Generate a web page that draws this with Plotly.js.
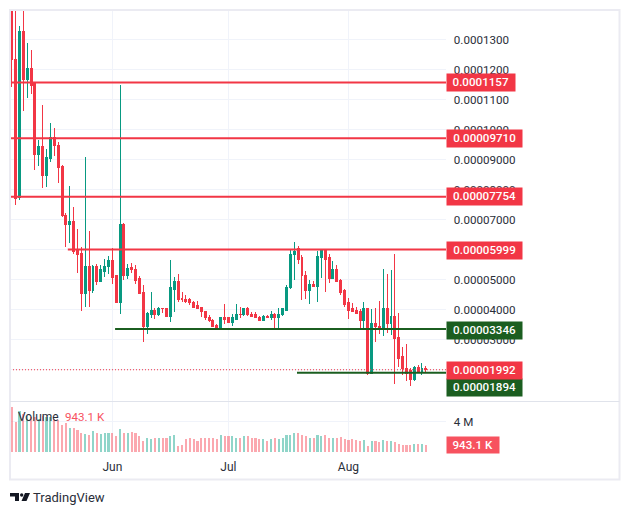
<!DOCTYPE html>
<html>
<head>
<meta charset="utf-8">
<script src="https://cdn.plot.ly/plotly-3.0.1.min.js"></script>
<style>html,body{margin:0;padding:0;background:#fff}#chart{width:630px;height:515px}
.boxlayer path{shape-rendering:crispEdges}.barlayer path{shape-rendering:crispEdges}</style>
</head>
<body>
<div id="chart"></div>
<script>
// Prices in millionths (1e-6), volumes in millions
const dates = [
'2024-05-06','2024-05-07','2024-05-08','2024-05-09','2024-05-10','2024-05-11','2024-05-12','2024-05-13','2024-05-14','2024-05-15','2024-05-16','2024-05-17','2024-05-18','2024-05-19','2024-05-20','2024-05-21','2024-05-22','2024-05-23','2024-05-24','2024-05-25','2024-05-26','2024-05-27','2024-05-28','2024-05-29','2024-05-30','2024-05-31',
'2024-06-01','2024-06-02','2024-06-03','2024-06-04','2024-06-05','2024-06-06','2024-06-07','2024-06-08','2024-06-09','2024-06-10','2024-06-11','2024-06-12','2024-06-13','2024-06-14','2024-06-15','2024-06-16','2024-06-17','2024-06-18','2024-06-19','2024-06-20','2024-06-21','2024-06-22','2024-06-23','2024-06-24','2024-06-25','2024-06-26','2024-06-27','2024-06-28','2024-06-29','2024-06-30',
'2024-07-01','2024-07-02','2024-07-03','2024-07-04','2024-07-05','2024-07-06','2024-07-07','2024-07-08','2024-07-09','2024-07-10','2024-07-11','2024-07-12','2024-07-13','2024-07-14','2024-07-15','2024-07-16','2024-07-17','2024-07-18','2024-07-19','2024-07-20','2024-07-21','2024-07-22','2024-07-23','2024-07-24','2024-07-25','2024-07-26','2024-07-27','2024-07-28','2024-07-29','2024-07-30','2024-07-31',
'2024-08-01','2024-08-02','2024-08-03','2024-08-04','2024-08-05','2024-08-06','2024-08-07','2024-08-08','2024-08-09','2024-08-10','2024-08-11','2024-08-12','2024-08-13','2024-08-14','2024-08-15','2024-08-16','2024-08-17','2024-08-18','2024-08-19','2024-08-20','2024-08-21'];

const opens = [142,123.4,77.3,132.5,116.8,120.2,115.2,91.5,94.2,84.5,90.2,97.2,94.8,87.5,71.5,68.5,69.2,59.8,58.8,45.2,54.5,46.2,54.5,49.5,52.8,54.2,56.5,51.2,42.2,68.2,51.5,53.9,53.5,50.2,45.8,34.5,38.5,39.8,38.5,
40.5,40.2,37.8,46.8,49.2,43.8,43.5,43.2,42.5,41.2,40.8,39.5,37.5,36.5,34.8,33.2,37.2,37.2,35.8,36.8,38.5,38.2,40.5,38.2,38.2,37.5,36.2,37.8,37.5,38.5,37.5,38.2,39.8,47.2,58.2,60.2,
57.2,51.5,46.5,48.2,47.8,57.5,59.8,57.2,50.5,53.2,49.8,46.2,42.2,40.2,39.8,39.2,36.2,40.2,18.8,35.5,34.5,33.8,40.5,35.5,37.8,30.8,24.2,20.5,19.8,16.8,20.8,19.5,20.5];
const highs = [144,142,134.5,141,128.8,126.5,115.2,96.5,108.2,93.5,102.2,100.5,95.8,88.2,72.2,81.2,74.2,66.8,60.8,90.8,66.2,54.8,55.2,54.8,56.8,57.8,60.5,51.2,114.8,68.8,55.2,55.5,54.8,51.2,48.2,39.2,45.8,40.5,40.8,
40.5,40.5,56.5,50.8,51.8,45.8,44.8,43.8,42.8,42.8,40.8,39.5,38.2,36.8,35.2,37.5,41.8,37.5,38.5,41.8,40.8,40.5,40.8,39.2,39.2,37.8,38.2,38.2,39.5,38.8,40.5,40.5,48.2,59.8,62.5,61.2,
58.2,52.8,49.8,49.5,59.5,60.2,60.2,58.5,56.2,54.8,50.2,46.8,43.8,42.2,40.8,40.2,42.5,40.5,40.2,40.5,42.8,53.5,51.8,53.2,58.5,38.8,27.5,28.5,20.5,21.2,21.5,22.2,21.2];
const lows = [114.3,74.8,76.5,106.2,110.5,111.8,86.5,87.8,80.5,80.8,89.2,91.2,82.2,71,60.8,62.2,58.5,52.2,39.5,40.8,40.8,45.5,48.2,49.2,50.8,51.8,48.5,42.2,38.5,49.8,50.2,52.2,48.5,45.5,29.2,31.8,37.2,36.8,37.8,
38.8,37.8,35.8,39.2,42.5,42.5,42.2,41.5,40.8,40.2,37.5,36.5,35.8,34.5,33.2,33.2,35.2,35.5,34.5,36.8,37.2,37.8,37.8,37.8,37.2,36.2,36.2,37.5,36.5,33.2,33.2,37.8,39.8,46.8,49.8,55.2,
43.2,43.5,41.8,47.5,42.5,50.5,45.8,48.8,50.5,49.2,44.8,40.8,36.8,39.2,38.5,33.5,33.8,18.2,18.8,29.2,31.8,31.2,32.2,31.5,15.2,20.8,18.2,16.2,14.5,16.2,19.5,18.2,19.2];
const closes = [123.2,77,132.5,116.8,120.2,114.8,91.5,94.2,84.5,90.5,97.2,94.5,87.2,71.3,68.5,69.2,59.2,58.5,45.2,54.5,46.2,54.5,49.5,53.2,54.5,56.5,50.8,42.2,68.2,51.5,53.8,53.5,49.8,45.5,34.5,38.8,39.8,38.5,40.5,
40.2,37.8,47.2,49.2,43.5,43.5,42.8,42.2,40.8,40.5,39.2,37.2,36.2,34.5,33.2,37.2,36.8,35.8,37.2,38.5,38.2,40.5,38.2,37.8,37.2,36.2,37.8,37.5,38.5,37.5,38.5,40.2,47.5,58.5,59.5,56.8,
51.2,46.5,48.2,47.8,57.8,59.8,56.8,50.5,53.2,49.5,45.8,41.8,39.8,39.5,38.8,36.2,40.2,18.8,35.5,34.2,33.8,40.5,35.5,37.8,30.5,23.8,20.2,18.8,16.8,20.8,19.5,20.5,19.92];
const volumes = [5.9,4.0,5.45,5.0,4.8,4.6,4.6,4.4,4.7,4.6,4.6,4.4,4.2,3.6,3.8,3.1,3.2,2.85,2.5,2.4,2.3,2.7,2.5,2.4,2.45,2.5,2.45,2.05,3.0,2.45,2.5,2.6,2.5,2.1,1.5,1.8,1.65,1.8,1.8,
1.85,1.8,2.05,2.2,0.8,0.9,1.65,1.8,1.65,1.5,1.9,1.9,1.9,1.9,1.65,2.2,2.05,2.05,2.05,1.9,1.9,2.05,2.05,1.8,1.9,1.65,1.65,1.5,1.65,1.8,1.7,1.9,2.2,2.3,2.45,2.45,
2.3,2.05,1.9,1.9,2.2,2.05,2.2,1.9,1.9,1.9,1.92,1.7,1.6,1.7,1.57,1.44,1.57,0.79,1.44,1.44,1.31,1.57,1.44,1.44,1.31,1.05,0.92,0.92,0.92,1.05,1.05,1.05,0.943];

const priceTicks = [130,120,110,100,90,80,70,60,50,40,30,20];
const priceTickLabels = ['0.0001300','0.0001200','0.0001100','0.0001000','0.00009000','0.00008000','0.00007000','','0.00005000','0.00004000','0.00003000',''];
const monthTicks = ['2024-06-01','2024-07-01','2024-08-01'];
const monthLabels = ['Jun','Jul','Aug'];

const levelValues = [115.7,97.1,77.54,59.99,33.46,18.94];
const levelLabels = ['0.0001157','0.00009710','0.00007754','0.00005999','0.00003346','0.00001894'];
const levelColors = ['#f23645','#f23645','#f23645','#f23645','#1b5e20','#1b5e20'];
const levelStarts = ['2024-05-05 13:26','2024-05-05 13:26','2024-05-05 13:26','2024-05-20 12:00','2024-06-01 17:00','2024-07-18 17:00'];
const levelTagShift = [0,0,0,-1,-1,-14.6];
const lastPrice = 19.92, lastPriceLabel = '0.00001992';
const lastVolume = 0.943, lastVolumeLabel = '943.1 K';

const RED='#f23645', GREEN='#089981', FONT='Roboto, sans-serif', TXT='#2a2e39';
const W=630,H=515, fx=p=>p/W, fy=p=>1-p/H, U=1e-6;
const xStart='2024-05-05 13:26', xEnd='2024-08-26 05:00';

const candles={type:'candlestick',x:dates,open:opens.map(v=>v*U),high:highs.map(v=>v*U),low:lows.map(v=>v*U),close:closes.map(v=>v*U),
  xaxis:'x',yaxis:'y',whiskerwidth:0,hoverinfo:'skip',showlegend:false,
  increasing:{line:{color:GREEN,width:1},fillcolor:GREEN},decreasing:{line:{color:RED,width:1},fillcolor:RED}};
const vols={type:'bar',x:dates,y:volumes.map(v=>v*1e6),xaxis:'x',yaxis:'y2',hoverinfo:'skip',showlegend:false,
  marker:{line:{width:0},color:closes.map((c,i)=>c>=opens[i]?'rgba(34,171,148,.5)':'rgba(247,82,95,.5)')}};

const shapes=[];
levelValues.forEach((v,i)=>shapes.push({type:'line',layer:'above',xref:'x',yref:'y',x0:levelStarts[i],x1:xEnd,y0:v*U,y1:v*U,line:{color:levelColors[i],width:2}}));
shapes.push({type:'line',layer:'above',xref:'x',yref:'y',x0:xStart,x1:xEnd,y0:lastPrice*U,y1:lastPrice*U,line:{color:RED,width:1,dash:'1px,2px'}});
// chart frame and pane separator
shapes.push({type:'rect',layer:'above',xref:'paper',yref:'paper',x0:fx(10),x1:fx(619.5),y0:fy(479.5),y1:fy(10),line:{color:'#ebebf2',width:2}});
shapes.push({type:'line',layer:'above',xref:'paper',yref:'paper',x0:fx(10),x1:fx(619.5),y0:fy(401.5),y1:fy(401.5),line:{color:'#e0e3eb',width:1}});
// logo
const LOGO='#131722';
const poly=pts=>'M'+pts.map(p=>fx(p[0])+','+fy(p[1])).join('L')+'Z';
shapes.push({type:'path',xref:'paper',yref:'paper',path:poly([[10,493],[19,493],[19,501],[15,501],[15,496.5],[10,496.5]]),fillcolor:LOGO,line:{width:0}});
shapes.push({type:'circle',xref:'paper',yref:'paper',x0:fx(20),x1:fx(23.4),y0:fy(496.7),y1:fy(493.3),fillcolor:LOGO,line:{width:0}});
shapes.push({type:'path',xref:'paper',yref:'paper',path:poly([[25,493],[30,493],[26.5,501],[21.5,501]]),fillcolor:LOGO,line:{width:0}});

const annotations=[];
const tag=(text,yv,yref,color,w,h,ys)=>annotations.push({text:text,xref:'paper',yref:yref,x:fx(446),y:yv,yshift:ys,xanchor:'left',yanchor:'middle',showarrow:false,
  width:w,height:h,align:'center',valign:'middle',bgcolor:color,borderpad:0,font:{family:FONT,size:11.6,color:'#fff',weight:500}});
levelValues.forEach((v,i)=>tag(levelLabels[i],v*U,'y',levelColors[i],levelLabels[i].length>9?75:67.5,16.7,levelTagShift[i]));
tag(lastPriceLabel,lastPrice*U,'y',RED,75,16.7,-1);
tag(lastVolumeLabel,lastVolume*1e6,'y2','#f7525f',51.5,16,0);
annotations.push({text:'Volume',xref:'paper',yref:'paper',x:fx(16),y:fy(417),xanchor:'left',yanchor:'middle',showarrow:false,font:{family:FONT,size:12,color:TXT}});
annotations.push({text:lastVolumeLabel,xref:'paper',yref:'paper',x:fx(62.5),y:fy(417),xanchor:'left',yanchor:'middle',showarrow:false,font:{family:FONT,size:11.6,color:'#f7525f'}});
annotations.push({text:'TradingView',xref:'paper',yref:'paper',x:fx(31),y:fy(497.5),xanchor:'left',yanchor:'middle',showarrow:false,font:{family:FONT,size:13,color:'#2a2e39'}});

const layout={width:W,height:H,margin:{l:0,r:0,t:0,b:0,pad:0},paper_bgcolor:'#fff',plot_bgcolor:'#fff',boxgap:0.28,bargap:0.45,showlegend:false,
  font:{family:FONT,size:12,color:TXT},dragmode:false,
  xaxis:{domain:[fx(10),fx(446)],range:[xStart,xEnd],type:'date',anchor:'y2',rangeslider:{visible:false},tickmode:'array',tickvals:monthTicks,ticktext:monthLabels,
    showgrid:true,gridcolor:'#f0f3fa',gridwidth:1,zeroline:false,showline:false,ticks:'outside',ticklen:4,tickcolor:'rgba(0,0,0,0)',tickfont:{family:FONT,size:12,color:TXT}},
  yaxis:{domain:[fy(401),fy(10)],range:[9.5*U,139.83*U],anchor:'x',side:'right',tickmode:'array',tickvals:priceTicks.map(v=>v*U),ticktext:priceTickLabels,
    showgrid:true,gridcolor:'#f0f3fa',gridwidth:1,zeroline:false,showline:false,ticks:'outside',ticklen:4.5,tickcolor:'rgba(0,0,0,0)',tickfont:{family:FONT,size:11.6,color:TXT}},
  yaxis2:{domain:[fy(452),fy(402)],range:[0,6.58e6],anchor:'x',side:'right',tickmode:'array',tickvals:[4e6],ticktext:['4 M'],
    showgrid:true,gridcolor:'#f0f3fa',gridwidth:1,zeroline:false,showline:false,ticks:'outside',ticklen:4.5,tickcolor:'rgba(0,0,0,0)',tickfont:{family:FONT,size:11.6,color:TXT}},
  shapes:shapes,annotations:annotations};
Plotly.newPlot('chart',[candles,vols],layout,{displayModeBar:false,staticPlot:true});
</script>
</body>
</html>
